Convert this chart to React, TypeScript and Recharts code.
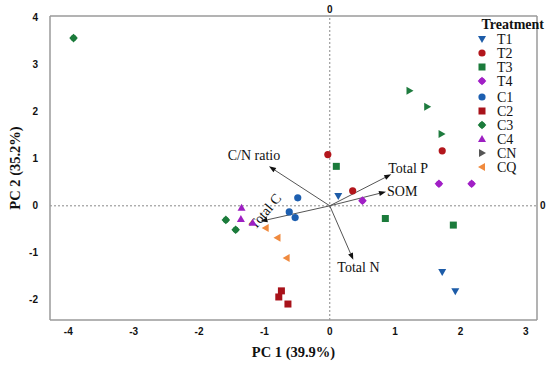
import { ScatterChart, Scatter, XAxis, YAxis, ReferenceLine, Legend } from "recharts";

// sample scores (PC1, PC2) per treatment
const T1 = [{ x: 0.13, y: 0.21 }, { x: 1.72, y: -1.41 }, { x: 1.92, y: -1.82 }];
const T2 = [{ x: -0.03, y: 1.09 }, { x: 0.35, y: 0.32 }, { x: 1.72, y: 1.17 }];
const T3 = [{ x: 0.1, y: 0.84 }, { x: 0.85, y: -0.27 }, { x: 1.89, y: -0.41 }];
const T4 = [{ x: 0.5, y: 0.11 }, { x: 1.67, y: 0.47 }, { x: 2.17, y: 0.47 }];
const C1 = [{ x: -0.49, y: 0.17 }, { x: -0.62, y: -0.13 }, { x: -0.53, y: -0.25 }];
const C2 = [{ x: -0.74, y: -1.81 }, { x: -0.78, y: -1.94 }, { x: -0.64, y: -2.09 }];
const C3 = [{ x: -3.92, y: 3.57 }, { x: -1.59, y: -0.3 }, { x: -1.44, y: -0.51 }];
const C4 = [{ x: -1.35, y: -0.04 }, { x: -1.36, y: -0.28 }, { x: -1.18, y: -0.36 }];
const CN = [{ x: 1.22, y: 2.45 }, { x: 1.49, y: 2.11 }, { x: 1.71, y: 1.53 }];
const CQ = [{ x: -0.98, y: -0.47 }, { x: -0.8, y: -0.68 }, { x: -0.66, y: -1.11 }];

// variable loadings
const loadingNames = ["C/N ratio", "Total C", "Total P", "SOM", "Total N"];
const loadingPC1 = [-0.93, -1.06, 0.94, 0.86, 0.36];
const loadingPC2 = [0.84, -0.33, 0.67, 0.3, -1.15];

const xTicks = [-4, -3, -2, -1, 0, 1, 2, 3];
const yTicks = [-2, -1, 0, 1, 2, 3, 4];

const SERIF = "'Liberation Serif', 'Times New Roman', serif";
const SANS = "'Liberation Sans', Arial, sans-serif";

const series = [
  { name: "T1", data: T1, kind: "down", color: "#1d5ca8" },
  { name: "T2", data: T2, kind: "circle", color: "#b3161c" },
  { name: "T3", data: T3, kind: "square", color: "#1b7b3b" },
  { name: "T4", data: T4, kind: "cross", color: "#a11fc6" },
  { name: "C1", data: C1, kind: "circle", color: "#1d5fb0" },
  { name: "C2", data: C2, kind: "square", color: "#a8121a" },
  { name: "C3", data: C3, kind: "cross", color: "#1b7b3b" },
  { name: "C4", data: C4, kind: "up", color: "#9d1fc2" },
  { name: "CN", data: CN, kind: "right", color: "#1e7b3e", legendColor: "#555555" },
  { name: "CQ", data: CQ, kind: "left", color: "#f08a3e" },
];

// where each arrow label sits relative to its arrow tip
const labelPos: Record<string, any> = {
  "C/N ratio": { dx: -15, dy: -6, anchor: "middle" },
  "Total C": { dx: -5, dy: 9, anchor: "start", rotate: -50 },
  "Total P": { dx: -3, dy: -1, anchor: "start" },
  SOM: { dx: 1, dy: 4, anchor: "start" },
  "Total N": { dx: -16, dy: 12, anchor: "start" },
};

const marker = (kind: string, cx: number, cy: number, color: string) => {
  switch (kind) {
    case "circle":
      return <circle cx={cx} cy={cy} r={3.6} fill={color} />;
    case "square":
      return <rect x={cx - 3.5} y={cy - 3.5} width={7} height={7} fill={color} />;
    case "down":
      return <polygon points={`${cx - 4},${cy - 3} ${cx + 4},${cy - 3} ${cx},${cy + 4}`} fill={color} />;
    case "up":
      return <polygon points={`${cx - 4},${cy + 3} ${cx + 4},${cy + 3} ${cx},${cy - 4}`} fill={color} />;
    case "right":
      return <polygon points={`${cx - 3},${cy - 4} ${cx - 3},${cy + 4} ${cx + 4},${cy}`} fill={color} />;
    case "left":
      return <polygon points={`${cx + 3},${cy - 4} ${cx + 3},${cy + 4} ${cx - 4},${cy}`} fill={color} />;
    default:
      return (
        <g fill={color}>
          <circle cx={cx} cy={cy} r={3} />
          <polygon points={`${cx},${cy - 4.3} ${cx + 4.3},${cy} ${cx},${cy + 4.3} ${cx - 4.3},${cy}`} />
        </g>
      );
  }
};

const Arrow = (props: any) => {
  const { x1, y1, x2, y2, name } = props;
  const ang = Math.atan2(y2 - y1, x2 - x1);
  const len = 7;
  const w = 2.6;
  const bx = x2 - len * Math.cos(ang);
  const by = y2 - len * Math.sin(ang);
  const px = -Math.sin(ang) * w;
  const py = Math.cos(ang) * w;
  const lp = labelPos[name];
  const tx = x2 + lp.dx;
  const ty = y2 + lp.dy;
  return (
    <g>
      <line x1={x1} y1={y1} x2={bx} y2={by} stroke="#555" strokeWidth={1} />
      <polygon points={`${x2},${y2} ${bx + px},${by + py} ${bx - px},${by - py}`} fill="#111" />
      <text
        x={tx}
        y={ty}
        textAnchor={lp.anchor}
        fontFamily={SERIF}
        fontSize={14}
        fill="#111"
        transform={lp.rotate ? `rotate(${lp.rotate}, ${tx}, ${ty})` : undefined}
      >
        {name}
      </text>
    </g>
  );
};

const LegendBox = () => (
  <div style={{ fontFamily: SERIF, color: "#111", width: 68 }}>
    <div style={{ fontWeight: "bold", fontSize: 14, lineHeight: "14px", textAlign: "right" }}>Treatment</div>
    {series.map((s) => (
      <div
        key={s.name}
        style={{ display: "flex", alignItems: "center", height: 14, marginTop: s.name === "C1" ? 2 : 0 }}
      >
        <svg width={12} height={12} style={{ display: "block" }}>
          {marker(s.kind, 6, 6, s.legendColor || s.color)}
        </svg>
        <span style={{ marginLeft: 9, fontSize: 14, lineHeight: "13px" }}>{s.name}</span>
      </div>
    ))}
  </div>
);

const tickStyle = { fontFamily: SANS, fontSize: 10, fontWeight: "bold", fill: "#111" };
const X_DOMAIN = [-4.28, 3.17];
const Y_DOMAIN = [-2.43, 4.04];

export default function App() {
  return (
    <div style={{ position: "absolute", left: 0, top: 0, width: 550, height: 365, background: "#fff" }}>
      <ScatterChart width={550} height={365} margin={{ top: 0, right: 0, bottom: 0, left: 0 }}>
        <XAxis
          xAxisId="b"
          type="number"
          dataKey="x"
          domain={X_DOMAIN}
          ticks={xTicks}
          allowDataOverflow
          height={45}
          tickLine={false}
          tickSize={6}
          tickMargin={2}
          axisLine={{ stroke: "#9a9a9a", strokeWidth: 1.5 }}
          tick={tickStyle}
          label={{
            value: "PC 1 (39.9%)",
            position: "insideBottom",
            offset: 8,
            style: { fontFamily: SERIF, fontSize: 14.5, fontWeight: "bold", fill: "#111" },
          }}
        />
        <XAxis
          xAxisId="t"
          orientation="top"
          type="number"
          dataKey="x"
          domain={X_DOMAIN}
          ticks={[0]}
          allowDataOverflow
          height={16}
          tickLine={false}
          tickSize={1}
          tickMargin={2}
          axisLine={{ stroke: "#9a9a9a", strokeWidth: 1.5 }}
          tick={tickStyle}
        />
        <YAxis
          yAxisId="l"
          type="number"
          dataKey="y"
          domain={Y_DOMAIN}
          ticks={yTicks}
          allowDataOverflow
          width={50}
          tickLine={false}
          tickSize={6}
          tickMargin={6}
          axisLine={{ stroke: "#9a9a9a", strokeWidth: 1.5 }}
          tick={tickStyle}
          label={{
            content: (p: any) => {
              const vb = p.viewBox;
              const cx = vb.x + 15;
              const cy = vb.y + vb.height / 2;
              return (
                <text
                  x={cx}
                  y={cy}
                  textAnchor="middle"
                  dominantBaseline="central"
                  transform={`rotate(-90, ${cx}, ${cy})`}
                  fontFamily={SERIF}
                  fontSize={14.5}
                  fontWeight="bold"
                  fill="#111"
                >
                  PC 2 (35.2%)
                </text>
              );
            },
          }}
        />
        <YAxis
          yAxisId="r"
          orientation="right"
          type="number"
          dataKey="y"
          domain={Y_DOMAIN}
          ticks={[0]}
          allowDataOverflow
          width={13}
          tickLine={false}
          tickSize={1}
          tickMargin={2}
          axisLine={{ stroke: "#9a9a9a", strokeWidth: 1.5 }}
          tick={{ ...tickStyle, textAnchor: "start" }}
        />
        <ReferenceLine xAxisId="b" yAxisId="l" x={0} stroke="#888" strokeDasharray="2 2" />
        <ReferenceLine xAxisId="b" yAxisId="l" y={0} stroke="#888" strokeDasharray="2 2" />
        {loadingNames.map((n, i) => (
          <ReferenceLine
            key={n}
            xAxisId="b"
            yAxisId="l"
            segment={[
              { x: 0, y: 0 },
              { x: loadingPC1[i], y: loadingPC2[i] },
            ]}
            ifOverflow="visible"
            shape={(p: any) => <Arrow {...p} name={n} />}
          />
        ))}
        {series.map((s) => (
          <Scatter
            key={s.name}
            name={s.name}
            xAxisId="b"
            yAxisId="l"
            data={s.data}
            fill={s.color}
            isAnimationActive={false}
            shape={(p: any) => marker(s.kind, p.cx, p.cy, s.color)}
          />
        ))}
        <Legend
          layout="vertical"
          align="center"
          verticalAlign="middle"
          wrapperStyle={{ top: 18, left: 476, width: 68 }}
          content={() => <LegendBox />}
        />
      </ScatterChart>
    </div>
  );
}
